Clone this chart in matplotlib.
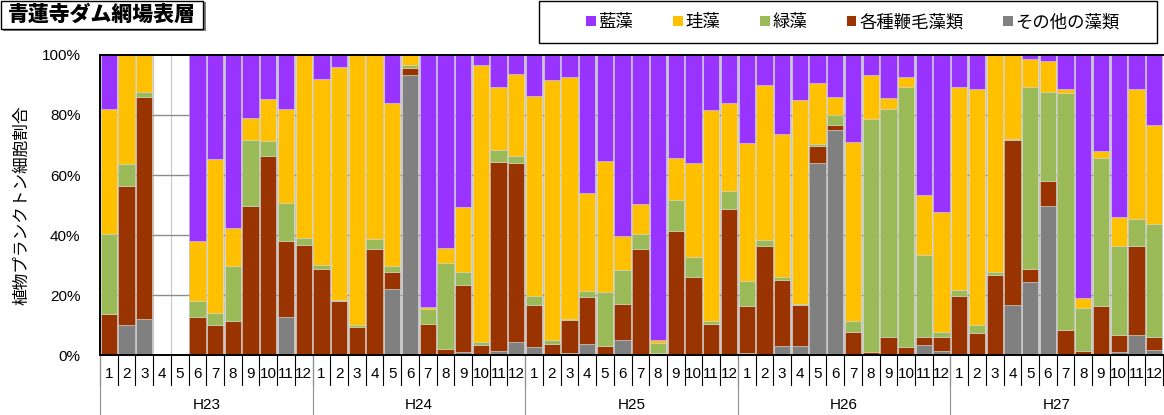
import matplotlib
matplotlib.use("Agg")
import matplotlib.pyplot as plt
import numpy as np
from matplotlib.patches import Rectangle

plt.rcParams['font.family'] = ['Liberation Sans', 'Noto Sans CJK JP', 'DejaVu Sans']

years = ['H23', 'H24', 'H25', 'H26', 'H27']
months = [str(m) for m in range(1, 13)]

series_names = ['その他の藻類', '各種鞭毛藻類', '緑藻', '珪藻', '藍藻']
colors = ['#808080', '#993300', '#9BBB59', '#FFC000', '#9933FF']

# cell ratio (%) for each month, H23-1 .. H27-12 (H23-4, H23-5: no data)
other = [0, 10.1, 12.1, 0, 0, 0, 0, 0, 0, 0, 12.8, 0,
         0, 0, 0, 0, 22.0, 93.4, 0.3, 0, 0.9, 0, 1.2, 4.2,
         2.8, 0, 0.8, 3.7, 0, 5.1, 0, 0, 0, 0, 0, 0,
         0.8, 0, 3.1, 3.1, 63.9, 75.1, 0, 0, 0, 0, 3.4, 1.4,
         0, 0, 0, 16.8, 24.3, 49.8, 0, 0, 0, 1.0, 6.7, 1.7]
flagellates = [13.8, 46.1, 74.0, 0, 0, 12.8, 10.1, 11.2, 49.6, 66.3, 25.1, 36.6,
               28.8, 17.9, 9.2, 35.4, 5.6, 2.3, 10.1, 2.0, 22.3, 3.4, 63.2, 59.9,
               14.0, 3.6, 10.8, 15.5, 3.0, 11.8, 35.2, 0.6, 41.2, 26.0, 10.2, 48.8,
               15.6, 36.2, 21.8, 13.5, 5.7, 1.5, 7.6, 1.0, 5.9, 2.7, 2.5, 4.5,
               19.6, 7.2, 26.6, 54.8, 4.4, 8.1, 8.4, 1.2, 16.2, 5.8, 29.5, 4.2]
green = [26.4, 7.6, 1.5, 0, 0, 5.1, 3.8, 18.4, 22.0, 4.9, 12.7, 2.5,
         1.2, 0.5, 0.7, 3.3, 2.2, 1.0, 4.9, 28.6, 4.6, 0.8, 3.8, 2.3,
         3.0, 1.5, 0.4, 2.0, 18.0, 11.5, 5.0, 3.3, 10.4, 6.8, 1.0, 5.9,
         8.2, 2.2, 1.1, 0.4, 0.6, 3.4, 3.6, 77.6, 76.0, 86.5, 27.3, 1.7,
         2.0, 2.7, 1.1, 0.5, 60.5, 29.8, 78.9, 14.4, 49.6, 29.4, 9.1, 37.8]
diatoms = [41.8, 36.2, 12.4, 0, 0, 20.2, 51.5, 12.8, 7.5, 14.2, 31.4, 60.9,
           61.9, 77.6, 90.1, 61.3, 54.1, 3.3, 0.7, 5.2, 21.6, 92.6, 21.2, 27.4,
           66.5, 86.5, 80.8, 32.8, 43.8, 11.2, 10.2, 1.0, 14.2, 31.3, 70.6, 29.4,
           46.1, 51.5, 47.8, 67.9, 20.4, 6.1, 59.9, 14.6, 3.8, 3.5, 20.1, 40.2,
           67.6, 78.9, 72.3, 27.9, 9.6, 10.4, 1.4, 3.4, 2.3, 9.7, 43.4, 33.1]
cyano = [18.0, 0, 0, 0, 0, 61.9, 34.6, 57.6, 20.9, 14.6, 18.0, 0,
         8.1, 4.0, 0, 0, 16.1, 0, 84.0, 64.2, 50.6, 3.2, 10.6, 6.2,
         13.7, 8.4, 7.2, 46.0, 35.2, 60.4, 49.6, 95.1, 34.2, 35.9, 18.2, 15.9,
         29.3, 10.1, 26.2, 15.1, 9.4, 13.9, 28.9, 6.8, 14.3, 7.3, 46.7, 52.2,
         10.8, 11.2, 0, 0, 1.2, 1.9, 11.3, 81.0, 31.9, 54.1, 11.3, 23.2]

data = np.array([other, flagellates, green, diatoms, cyano], dtype=float)
n = data.shape[1]
x = np.arange(n)

fig = plt.figure(figsize=(11.64, 4.15), dpi=100)
ax = fig.add_axes([100 / 1164, 60 / 415, 1063 / 1164, 300 / 415])

# light vertical separators between months, gray horizontal grid
for b in np.arange(n + 1) - 0.5:
    ax.axvline(b, color='#c8c8c8', lw=0.8, zorder=0)
for g in [20, 40, 60, 80]:
    ax.axhline(g, color='#8c8c8c', lw=1.0, zorder=0)

bottom = np.zeros(n)
for vals, name, c in zip(data, series_names, colors):
    ax.bar(x, vals, width=0.92, bottom=bottom, color=c, label=name,
           edgecolor='#d0d0d0', linewidth=0.4, zorder=2)
    bottom += vals

ax.set_xlim(-0.5, n - 0.5)
ax.set_ylim(0, 100)
ax.set_yticks(range(0, 101, 20))
ax.set_yticklabels([f'{v}%' for v in range(0, 101, 20)], fontsize=11)
ax.tick_params(axis='y', length=0, pad=14)
ax.set_xticks([])
for side in ['left', 'bottom', 'top']:
    ax.spines[side].set_linewidth(1.4)
    ax.spines[side].set_color('black')
ax.spines['right'].set_visible(False)
ax.set_ylabel('植物プランクトン細胞割合', fontsize=12, labelpad=9)

# two-level category axis: months, then fiscal years
trans = ax.get_xaxis_transform()
for i in range(n):
    ax.text(i, -0.063, months[i % 12], transform=trans, ha='center', va='center',
            fontsize=11)
for b in np.arange(n + 1) - 0.5:
    ax.plot([b, b], [0, -0.1], transform=trans, color='black', lw=0.8,
            clip_on=False)
for k, yr in enumerate(years):
    ax.text(k * 12 + 5.5, -0.167, yr, transform=trans, ha='center',
            va='center', fontsize=11)
    b = k * 12 - 0.5
    ax.plot([b, b], [0, -0.2], transform=trans, color='#909090', lw=0.8,
            clip_on=False)

# title box with drop shadow
fig.patches.append(Rectangle((3 / 1164, 1 - 31 / 415), 203 / 1164, 29 / 415,
                             transform=fig.transFigure, facecolor='#7f7f7f',
                             edgecolor='none'))
fig.patches.append(Rectangle((1 / 1164, 1 - 29 / 415), 202 / 1164, 28 / 415,
                             transform=fig.transFigure, facecolor='white',
                             edgecolor='black', lw=1.0))
fig.text(102 / 1164, 1 - 15 / 415, '青蓮寺ダム網場表層', ha='center', va='center',
         fontsize=15, fontweight='heavy', family=['Noto Sans CJK JP'])

# legend frame drawn separately, entries purple first
fig.patches.append(Rectangle((539 / 1164, 1 - 43 / 415), 618 / 1164, 42 / 415,
                             transform=fig.transFigure, facecolor='white',
                             edgecolor='black', lw=1.0))
handles, labels = ax.get_legend_handles_labels()
leg = fig.legend(handles[::-1], labels[::-1], loc='center',
                 bbox_to_anchor=(853 / 1164, 1 - 22 / 415), ncol=5,
                 fontsize=12.5, frameon=False,
                 handlelength=0.55, handleheight=0.55, handletextpad=0.15,
                 columnspacing=2.3)
for h in leg.legend_handles:
    h.set_edgecolor('none')

fig.savefig('out.png', dpi=100)
